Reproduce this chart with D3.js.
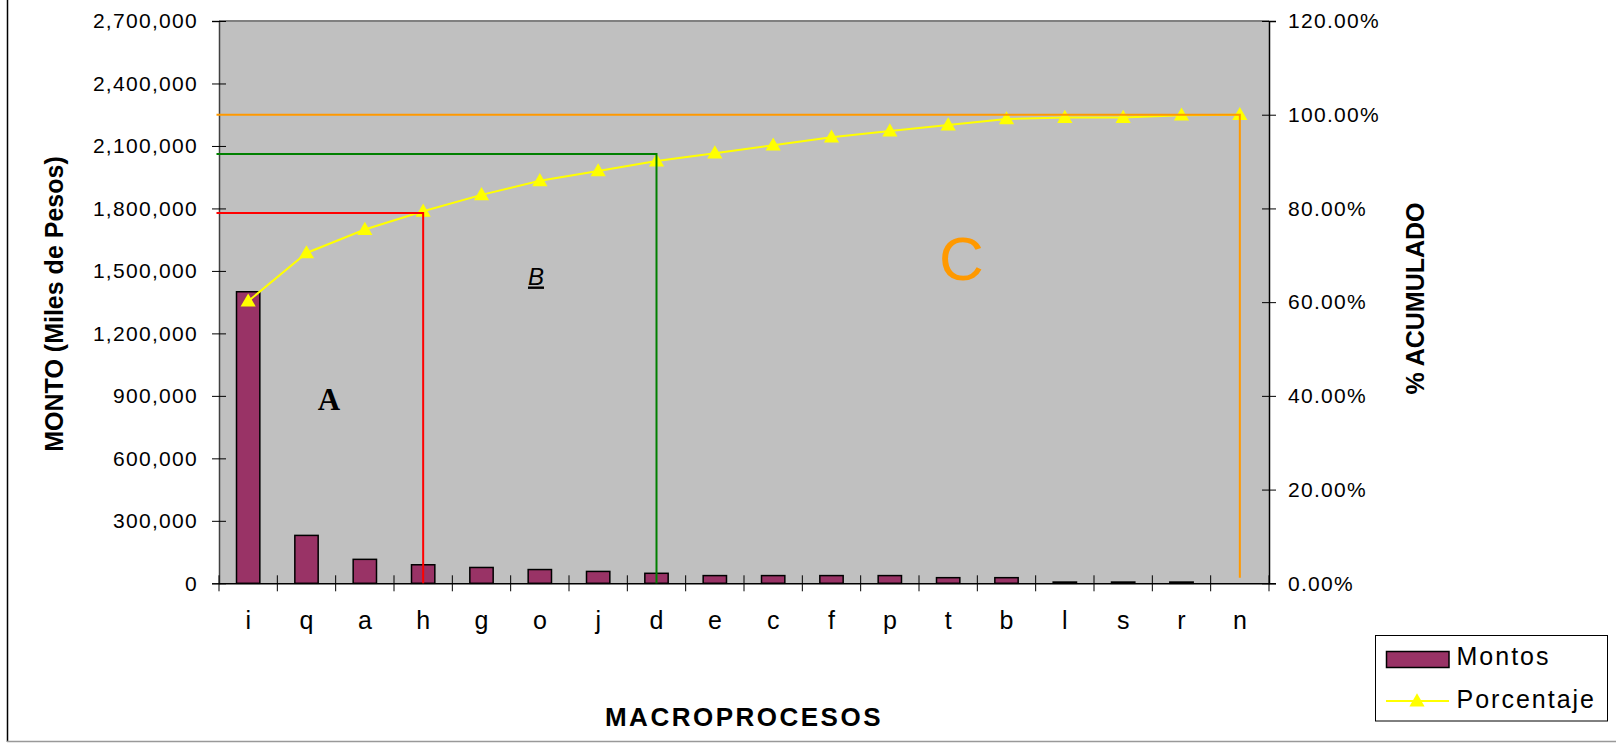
<!DOCTYPE html>
<html>
<head>
<meta charset="utf-8">
<script src="https://cdn.jsdelivr.net/npm/d3@7"></script>
<style>
  html, body { margin: 0; padding: 0; background: #fff; }
  svg { display: block; font-family: "Liberation Sans", Arial, sans-serif; }
</style>
</head>
<body>
<svg id="chart" width="1616" height="743"></svg>
<script>
// ---------------- data ----------------
const categories = ['i','q','a','h','g','o','j','d','e','c','f','p','t','b','l','s','r','n'];
const montos = [1400000, 230000, 115000, 89000, 76000, 66000, 57000, 48000, 37000, 37000, 37000, 37000, 27000, 27000, 6000, 6000, 6000, 0];
const porcentaje = [0.602, 0.705, 0.755, 0.794, 0.829, 0.859, 0.880, 0.901, 0.918, 0.935, 0.952, 0.965, 0.978, 0.991, 0.994, 0.994, 0.999, 1.000];
const leftTicks = [0, 300000, 600000, 900000, 1200000, 1500000, 1800000, 2100000, 2400000, 2700000];
const rightTicks = [0, 0.2, 0.4, 0.6, 0.8, 1.0, 1.2];
// ABC cut-off lines (drawn shapes): category, cumulative level, bottom level, colour
const cutCats = ['h', 'd', 'n'];
const cutLevels = [0.79, 0.916, 1.0];
const cutBottoms = [0, 0, 0.012];
const cutColors = ['#FF0000', '#008000', '#FF9900'];
const zoneLabels = ['A', 'B', 'C'];

// ---------------- layout ----------------
const svg = d3.select('#chart');
const L = 219, R = 1269, T = 21, B = 583.3;

const x = d3.scaleBand().domain(categories).range([L, R]).padding(0);
const yL = d3.scaleLinear().domain([0, 2700000]).range([B, T]);
const yR = d3.scaleLinear().domain([0, 1.2]).range([B, T]);

// outer frame (left and bottom edges visible)
svg.append('line').attr('x1', 7.5).attr('x2', 7.5).attr('y1', 0).attr('y2', 742)
  .attr('stroke', '#000').attr('stroke-width', 1.5);
svg.append('line').attr('x1', 7).attr('x2', 1616).attr('y1', 741.5).attr('y2', 741.5)
  .attr('stroke', '#999').attr('stroke-width', 1.5);

// plot area
svg.append('rect').attr('x', L).attr('y', T).attr('width', R - L).attr('height', B - T)
  .attr('fill', '#C0C0C0');
svg.append('line').attr('x1', L).attr('x2', R).attr('y1', T).attr('y2', T)
  .attr('stroke', '#808080').attr('stroke-width', 2);

// bars
const bw = x.bandwidth() * 0.4;
svg.append('g').selectAll('rect').data(categories.map((c, i) => ({c, v: montos[i]})).filter(d => d.v > 0))
  .join('rect')
  .attr('x', d => x(d.c) + (x.bandwidth() - bw) / 2)
  .attr('y', d => yL(d.v))
  .attr('width', bw)
  .attr('height', d => yL(0) - yL(d.v))
  .attr('fill', '#993366')
  .attr('stroke', '#000').attr('stroke-width', 1.5);

// axes
const fmt = d3.format(',');
const gL = svg.append('g').attr('transform', `translate(${L},0)`)
  .call(d3.axisLeft(yL).tickValues(leftTicks).tickFormat(fmt).tickSize(7).tickPadding(14));
gL.select('.domain').attr('stroke', '#404040').attr('stroke-width', 1.5);
gL.selectAll('.tick line').attr('x1', 7).attr('x2', -7).attr('stroke', '#000');
gL.selectAll('.tick text').attr('font-size', 21).attr('letter-spacing', 1.3)
  .attr('font-family', '"Liberation Sans", Arial, sans-serif').attr('fill', '#000');

const gR = svg.append('g').attr('transform', `translate(${R},0)`)
  .call(d3.axisRight(yR).tickValues(rightTicks).tickFormat(d3.format('.2%')).tickSize(7).tickPadding(12));
gR.select('.domain').attr('stroke', '#000').attr('stroke-width', 1.5);
gR.selectAll('.tick line').attr('x1', -7).attr('x2', 7).attr('stroke', '#000');
gR.selectAll('.tick text').attr('font-size', 21).attr('letter-spacing', 1.3)
  .attr('font-family', '"Liberation Sans", Arial, sans-serif').attr('fill', '#000');

const gB = svg.append('g').attr('transform', `translate(0,${B})`)
  .call(d3.axisBottom(x).tickSize(0).tickPadding(28));
gB.select('.domain').attr('stroke', '#000').attr('stroke-width', 1.5);
gB.selectAll('.tick text').attr('font-size', 25)
  .attr('font-family', '"Liberation Sans", Arial, sans-serif').attr('fill', '#000');
// category boundary ticks (crossing)
const bounds = categories.map(c => x(c)).concat([x.range()[1]]);
gB.append('g').selectAll('line').data(bounds).join('line')
  .attr('x1', d => d).attr('x2', d => d).attr('y1', -8).attr('y2', 8)
  .attr('stroke', '#000').attr('stroke-width', 1);

// cumulative line
const cx = c => x(c) + x.bandwidth() / 2;
const lineData = categories.map((c, i) => ({c, p: porcentaje[i]}));
svg.append('path').datum(lineData)
  .attr('d', d3.line().x(d => cx(d.c)).y(d => yR(d.p)))
  .attr('fill', 'none').attr('stroke', '#FFFF00').attr('stroke-width', 2);
const tri = d3.symbol().type(d3.symbolTriangle).size(100);
svg.append('g').selectAll('path').data(lineData).join('path')
  .attr('d', tri)
  .attr('transform', d => `translate(${cx(d.c)},${yR(d.p) + 1})`)
  .attr('fill', '#FFFF00');

// cut-off lines
cutCats.forEach((c, i) => {
  const px = cx(c);
  svg.append('path')
    .attr('d', `M${L - 2.5},${yR(cutLevels[i])}H${px}V${yR(cutBottoms[i])}`)
    .attr('fill', 'none').attr('stroke', cutColors[i]).attr('stroke-width', 2);
});

// zone labels
svg.append('text').text(zoneLabels[0])
  .attr('x', 329).attr('y', 409.5).attr('text-anchor', 'middle')
  .attr('font-family', '"Liberation Serif", "Times New Roman", serif')
  .attr('font-weight', 'bold').attr('font-size', 31).attr('fill', '#000');
svg.append('text').text(zoneLabels[1])
  .attr('x', 536).attr('y', 284.5).attr('text-anchor', 'middle')
  .attr('font-style', 'italic').attr('text-decoration', 'underline')
  .attr('font-size', 24).attr('fill', '#000');
svg.append('text').text(zoneLabels[2])
  .attr('x', 961.5).attr('y', 279.5).attr('text-anchor', 'middle')
  .attr('font-size', 62).attr('fill', '#FF9900');

// axis titles
svg.append('text').text('MONTO (Miles de Pesos)')
  .attr('transform', 'translate(63,304) rotate(-90)').attr('text-anchor', 'middle')
  .attr('font-weight', 'bold').attr('font-size', 25).attr('fill', '#000');
svg.append('text').text('% ACUMULADO')
  .attr('transform', 'translate(1424,298.5) rotate(-90)').attr('text-anchor', 'middle')
  .attr('font-weight', 'bold').attr('font-size', 25).attr('fill', '#000');
svg.append('text').text('MACROPROCESOS')
  .attr('x', 744).attr('y', 726).attr('text-anchor', 'middle')
  .attr('font-weight', 'bold').attr('font-size', 26).attr('letter-spacing', 2.5).attr('fill', '#000');

// legend
const lg = svg.append('g');
lg.append('rect').attr('x', 1375.5).attr('y', 635.5).attr('width', 232).attr('height', 85.5)
  .attr('fill', '#fff').attr('stroke', '#000').attr('stroke-width', 1);
lg.append('rect').attr('x', 1386.5).attr('y', 651.5).attr('width', 62.5).attr('height', 16)
  .attr('fill', '#993366').attr('stroke', '#000').attr('stroke-width', 1.5);
lg.append('text').text('Montos').attr('x', 1456.5).attr('y', 665)
  .attr('font-size', 25).attr('letter-spacing', 2).attr('fill', '#000');
lg.append('line').attr('x1', 1386).attr('x2', 1449).attr('y1', 701).attr('y2', 701)
  .attr('stroke', '#FFFF00').attr('stroke-width', 2);
lg.append('path').attr('d', tri).attr('transform', 'translate(1417,702)').attr('fill', '#FFFF00');
lg.append('text').text('Porcentaje').attr('x', 1456.5).attr('y', 707.5)
  .attr('font-size', 25).attr('letter-spacing', 2).attr('fill', '#000');
</script>
</body>
</html>
